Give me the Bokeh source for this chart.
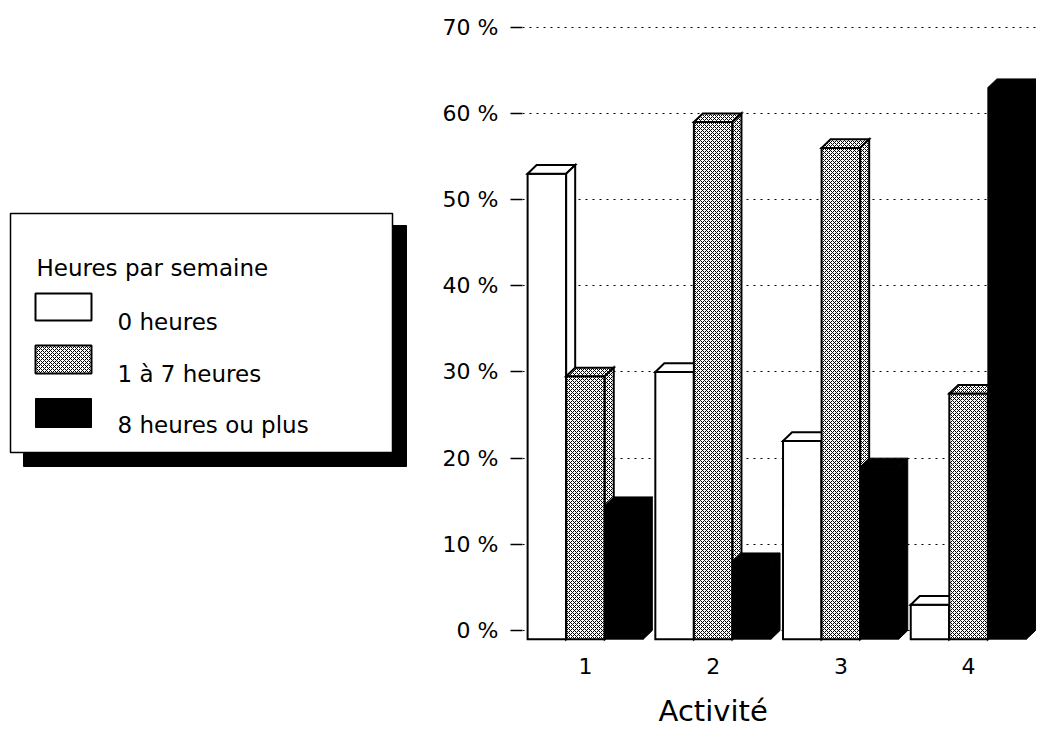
import numpy as np
from bokeh.plotting import figure
from bokeh.layouts import row
from bokeh.models import FixedTicker, LinearAxis, Range1d
from bokeh.core.properties import value
from bokeh.embed import file_html
from bokeh.resources import INLINE

# ---- data -------------------------------------------------------------
activities = ["1", "2", "3", "4"]
series_names = ["0 heures", "1 à 7 heures", "8 heures ou plus"]
legend_title = "Heures par semaine"
x_title = "Activité"

hours_0 = [54, 31, 23, 4]
hours_1_7 = [30.5, 60, 57, 28.5]
hours_8_plus = [15.5, 9, 20, 64]

y_ticks = [0, 10, 20, 30, 40, 50, 60, 70]
y_tick_labels = [f"{t} %" for t in y_ticks]

# ---- styling ----------------------------------------------------------
FONT = "DejaVu Sans"
BAR_W = 0.302   # width of a bar's front face (group spacing = 1)
DX = 0.0705     # horizontal depth of the extruded bars
DY = 1.0        # vertical depth of the extruded bars (percentage points)
TOP, BOTTOM = 20, 90   # borders shared by both panels

styles = [
    dict(fill_color="white", line_color="black", line_width=2),
    dict(fill_color="white", hatch_pattern="diagonal_cross", hatch_scale=4,
         hatch_weight=1, hatch_color="black", line_color="black", line_width=2),
    dict(fill_color="black", line_color="black", line_width=1),
]

# ---- chart ------------------------------------------------------------
p = figure(width=623, height=732,
           x_range=Range1d(0.507, 4.563), y_range=Range1d(-1.39, 70.78),
           output_backend="svg", toolbar_location=None,
           min_border_left=102, min_border_right=3,
           min_border_top=TOP, min_border_bottom=BOTTOM,
           outline_line_color=None)

centers = np.arange(1, len(activities) + 1, dtype=float)
series = [hours_0, hours_1_7, hours_8_plus]
offsets = [-BAR_W, 0.0, BAR_W]

for vals, off, st in zip(series, offsets, styles):
    v = np.asarray(vals, dtype=float)
    x0 = centers + off - BAR_W / 2
    x1 = x0 + BAR_W
    front_xs = [[a, b, b, a] for a, b in zip(x0, x1)]
    front_ys = [[-DY, -DY, h - DY, h - DY] for h in v]
    top_xs = [[a, a + DX, b + DX, b] for a, b in zip(x0, x1)]
    top_ys = [[h - DY, h, h, h - DY] for h in v]
    side_xs = [[b, b + DX, b + DX, b] for b in x1]
    side_ys = [[-DY, 0, h, h - DY] for h in v]
    p.patches(front_xs, front_ys, line_join="miter", **st)
    p.patches(top_xs, top_ys, line_join="miter", **st)
    p.patches(side_xs, side_ys, line_join="miter", **st)

p.xaxis.ticker = FixedTicker(ticks=list(centers))
p.xaxis.major_label_overrides = {float(c): a for c, a in zip(centers, activities)}
p.xaxis.axis_line_color = None
p.xaxis.major_tick_line_color = None
p.xaxis.minor_tick_line_color = None
p.xaxis.major_label_standoff = 9
p.xaxis.major_label_text_font = FONT
p.xaxis.major_label_text_font_size = "22px"
p.xaxis.major_label_text_color = "black"

title_axis = LinearAxis(ticker=FixedTicker(ticks=[2]),
                        major_label_overrides={2: x_title},
                        axis_line_color=None, major_tick_line_color=None,
                        minor_tick_line_color=None,
                        major_label_standoff=11,
                        major_label_text_font=FONT,
                        major_label_text_font_size="29px",
                        major_label_text_color="black")
p.add_layout(title_axis, "below")

p.yaxis.ticker = FixedTicker(ticks=y_ticks)
p.yaxis.major_label_overrides = {t: lab for t, lab in zip(y_ticks, y_tick_labels)}
p.yaxis.axis_line_color = None
p.yaxis.major_tick_in = 0
p.yaxis.major_tick_out = 12
p.yaxis.major_tick_line_width = 1.5
p.yaxis.major_tick_line_color = "black"
p.yaxis.minor_tick_line_color = None
p.yaxis.major_label_standoff = 12
p.yaxis.major_label_text_font = FONT
p.yaxis.major_label_text_font_size = "22px"
p.yaxis.major_label_text_color = "black"

p.xgrid.visible = False
p.ygrid.grid_line_color = "black"
p.ygrid.grid_line_dash = "2 5"
p.ygrid.grid_line_width = 1.2

# ---- legend panel (page pixel coordinates, y downwards) ---------------
lg = figure(width=420, height=732,
            x_range=Range1d(0, 420), y_range=Range1d(732 - BOTTOM, TOP),
            x_axis_type=None, y_axis_type=None,
            output_backend="svg", toolbar_location=None,
            min_border_left=0, min_border_right=0,
            min_border_top=TOP, min_border_bottom=BOTTOM,
            outline_line_color=None)
lg.grid.visible = False

lg.quad(left=[23], right=[406], top=[225], bottom=[466],
        fill_color="black", line_color="black")
lg.quad(left=[10], right=[392], top=[213], bottom=[452],
        fill_color="white", line_color="black", line_width=1.5)

lg.text(x=[36], y=[267], text=[legend_title], text_font=value(FONT),
        text_font_size="23px", text_baseline="alphabetic", text_color="black")

sw_top = [293, 345, 398]
sw_bot = [320, 373, 427]
label_base = [321, 373.5, 424]
for name, st, t, b, yb in zip(series_names, styles, sw_top, sw_bot, label_base):
    lg.quad(left=[35], right=[91], top=[t], bottom=[b], **st)
    lg.text(x=[117], y=[yb], text=[name], text_font=value(FONT),
            text_font_size="23px", text_baseline="alphabetic", text_color="black")

layout = row(lg, p)
open("out.html", "w").write(file_html(layout, INLINE))
